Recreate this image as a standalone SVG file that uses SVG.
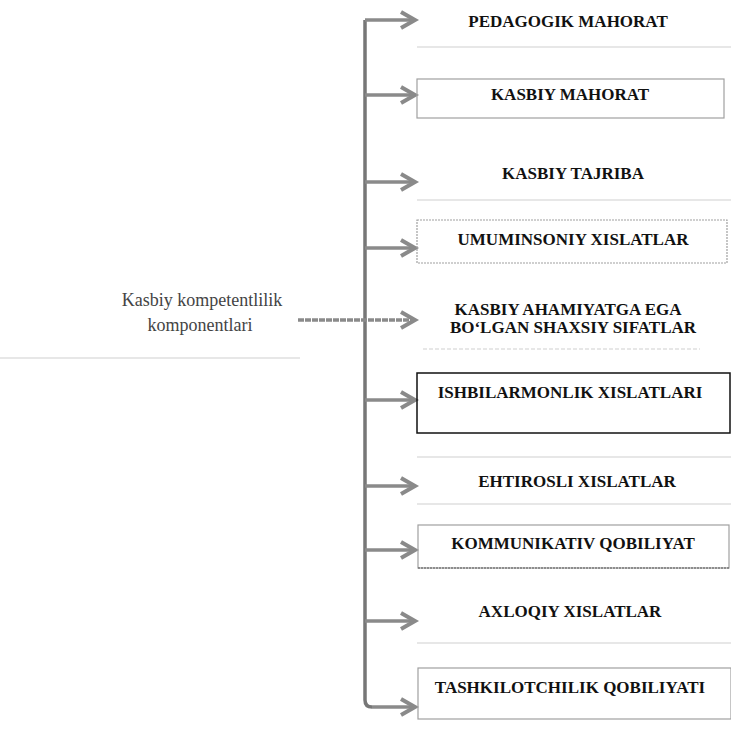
<svg xmlns="http://www.w3.org/2000/svg" width="731" height="729" viewBox="0 0 731 729">
<defs>
<marker id="ah" markerUnits="userSpaceOnUse" markerWidth="22" markerHeight="22" refX="17" refY="10" orient="auto">
<path d="M3,2 L17,10 L3,18" fill="none" stroke="#8a8a8a" stroke-width="4" stroke-linejoin="miter"/>
</marker>
</defs>
<style>
.t{font-family:"Liberation Serif","Times New Roman",serif;font-weight:bold;font-size:17px;fill:#111;text-anchor:middle}
.lbl{font-family:"Liberation Serif","Times New Roman",serif;font-size:18px;fill:#444;text-anchor:middle}
.ar{fill:none;stroke:#8a8a8a;stroke-width:3.5}
.faint{stroke:#cfcfcf;stroke-width:1.2;fill:none}
.gbox{fill:none;stroke:#a0a0a0;stroke-width:1.2}
.bbox{fill:none;stroke:#111;stroke-width:1.5}
</style>
<rect width="731" height="729" fill="#fff"/>
<g id="source">
<text class="lbl" x="202" y="306">Kasbiy kompetentlilik</text>
<text class="lbl" x="200" y="331">komponentlari</text>
<line class="faint" x1="0" y1="358" x2="300" y2="358"/>
</g>
<g id="connectors">
<path d="M365,20 V700 Q365,707 372,707" fill="none" stroke="#777" stroke-width="3.5"/>
<line class="ar" x1="365" y1="20" x2="415" y2="20" marker-end="url(#ah)"/>
<line class="ar" x1="365" y1="95" x2="415" y2="95" marker-end="url(#ah)"/>
<line class="ar" x1="365" y1="182" x2="415" y2="182" marker-end="url(#ah)"/>
<line class="ar" x1="365" y1="248" x2="415" y2="248" marker-end="url(#ah)"/>
<line class="ar" x1="298" y1="320" x2="415" y2="320" marker-end="url(#ah)" stroke-dasharray="6 1"/>
<line class="ar" x1="365" y1="400" x2="415" y2="400" marker-end="url(#ah)"/>
<line class="ar" x1="365" y1="486" x2="415" y2="486" marker-end="url(#ah)"/>
<line class="ar" x1="365" y1="550" x2="415" y2="550" marker-end="url(#ah)"/>
<line class="ar" x1="365" y1="621" x2="415" y2="621" marker-end="url(#ah)"/>
<line class="ar" x1="372" y1="707" x2="415" y2="707" marker-end="url(#ah)"/>
</g>
<g id="n1">
<line class="faint" x1="417" y1="47" x2="731" y2="47"/>
<text class="t" x="568" y="27">PEDAGOGIK MAHORAT</text>
</g>
<g id="n2">
<rect class="gbox" x="417" y="79" width="307" height="39"/>
<text class="t" x="570" y="100">KASBIY MAHORAT</text>
</g>
<g id="n3">
<line class="faint" x1="417" y1="200" x2="731" y2="200"/>
<text class="t" x="573" y="179">KASBIY TAJRIBA</text>
</g>
<g id="n4">
<rect class="gbox" x="417" y="220" width="310" height="43" stroke-dasharray="2 1"/>
<text class="t" x="573" y="245">UMUMINSONIY  XISLATLAR</text>
</g>
<g id="n5">
<line class="faint" x1="423" y1="349" x2="700" y2="349" stroke-dasharray="4 2"/>
<text class="t" x="568" y="315">KASBIY AHAMIYATGA EGA</text>
<text class="t" x="573" y="333">BO‘LGAN SHAXSIY SIFATLAR</text>
</g>
<g id="n6">
<rect class="bbox" x="417" y="373" width="313" height="60"/>
<text class="t" x="570" y="398">ISHBILARMONLIK  XISLATLARI</text>
</g>
<g id="n7">
<line class="faint" x1="417" y1="457" x2="731" y2="457"/>
<line class="faint" x1="417" y1="504" x2="731" y2="504"/>
<text class="t" x="577" y="487">EHTIROSLI  XISLATLAR</text>
</g>
<g id="n8">
<rect class="gbox" x="418" y="525" width="311" height="43"/>
<line x1="418" y1="568" x2="729" y2="568" stroke="#555" stroke-width="1.2" stroke-dasharray="2 1"/>
<text class="t" x="573" y="549">KOMMUNIKATIV QOBILIYAT</text>
</g>
<g id="n9">
<line class="faint" x1="417" y1="643" x2="731" y2="643"/>
<text class="t" x="570" y="617">AXLOQIY  XISLATLAR</text>
</g>
<g id="n10">
<rect class="gbox" x="418" y="668" width="313" height="51"/>
<text class="t" x="570" y="693">TASHKILOTCHILIK QOBILIYATI</text>
</g>
</svg>
